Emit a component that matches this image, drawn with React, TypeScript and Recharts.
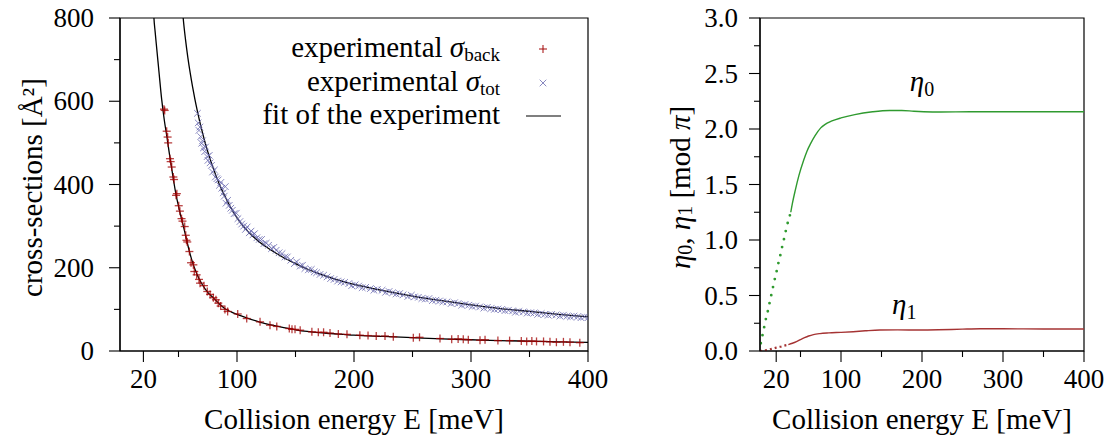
import React from 'react';
import { ComposedChart, Scatter, Line, XAxis, YAxis, ReferenceArea, ReferenceDot, Legend } from 'recharts';

const FONT = "'Liberation Serif', 'DejaVu Serif', serif";
const FS = 27; // tick labels
const TS = 29; // titles, legend

// axis ticks (majors get a label, the rest are minor ticks)
const energyTicks = [20, 50, 100, 150, 200, 250, 300, 350, 400];
const energyLabels = [20, 100, 200, 300, 400];
const sigmaTicks = [0, 100, 200, 300, 400, 500, 600, 700, 800];
const sigmaLabels = [0, 200, 400, 600, 800];
const etaTicks = [0, 0.25, 0.5, 0.75, 1, 1.25, 1.5, 1.75, 2, 2.25, 2.5, 2.75, 3];
const etaLabels = [0, 0.5, 1, 1.5, 2, 2.5, 3];

// measured backward cross-section [E meV, sigma A^2]
const backMeasured = [
  [37.6, 581], [38.2, 578], [39.9, 528], [40.7, 514], [41.2, 500], [42.7, 462], [43.3, 455], [44.2, 442],
  [45.6, 418], [46.2, 412], [47.9, 374], [48.6, 378], [50.2, 349], [51.2, 336], [52.6, 318], [53.4, 312],
  [55.3, 299], [56.2, 278], [56.8, 266], [57.5, 262], [59.3, 239], [60.7, 212], [62.7, 207], [63.5, 191],
  [65.5, 183], [67.5, 172], [68.4, 163], [71.8, 157], [74.6, 143], [77, 136], [79.8, 128], [82, 123],
  [84, 115], [86, 108], [89.7, 100], [92, 95], [100.6, 89], [108.3, 78], [119.7, 70], [128.2, 62],
  [134, 59], [144.7, 54], [147, 52], [149.6, 52], [154, 50], [164, 46], [169.5, 45], [174, 45],
  [179.5, 43], [186.6, 41], [194, 40], [205, 38], [212, 37], [219, 36], [226.5, 36], [233.6, 34],
  [250.7, 32], [256, 33], [273.5, 30], [283.5, 28], [289, 29], [293.4, 28], [297.7, 27], [307.7, 26],
  [312, 27], [323, 25], [333, 25], [343, 24], [347.6, 23], [352, 24], [356, 23], [362, 23],
  [367.5, 22], [373, 21], [379, 22], [384.6, 21], [393, 20],
];

// measured total cross-section
const totMeasured = [
  [66.2, 571], [66.8, 548], [67.5, 530], [68.3, 538], [69, 515], [69.8, 499], [70.5, 505], [71.3, 488],
  [72.4, 479], [73.1, 490], [74.5, 467], [75.2, 458], [76.3, 470], [77, 452], [78.2, 446], [79.1, 430],
  [80.7, 435], [81.5, 418], [82.8, 414], [83.9, 411], [85, 398], [86.2, 405], [87, 391], [88.3, 380],
  [89.1, 372], [90, 395], [90.6, 355], [92, 362], [93.4, 350], [94.7, 343], [96, 338], [97.5, 330],
  [99.4, 331], [100.8, 318], [102.5, 311], [104, 305], [105.7, 300], [107.2, 292], [108.7, 298], [110.5, 284],
  [112, 288], [113.6, 279], [115, 282], [117, 272], [119, 268], [121, 268], [123, 258], [125, 259],
  [127, 254], [129.5, 246], [131.5, 249], [133.5, 242], [136, 236], [138.5, 234], [141, 226], [143, 226],
  [146, 218], [149, 210], [151, 214], [154, 204], [156, 206], [158, 198], [161, 195], [163.5, 196],
  [166, 190], [168, 188], [171, 184], [174, 182], [177, 178], [180, 174], [183, 172], [186, 168],
  [189, 166], [192, 165], [195.6, 162], [198, 157], [201, 159], [204, 156], [207, 152], [210, 153],
  [214, 150], [217, 146], [220, 148], [224, 146], [227, 141], [230, 143], [233, 140], [236, 137],
  [239, 138], [242, 135], [246, 131], [249, 134], [251.6, 130], [255, 129], [258, 126], [261, 125],
  [264, 126], [267, 121], [270, 122], [273, 120], [276, 118], [279.5, 118], [283, 114], [286, 116],
  [289, 114], [292, 110], [295, 112], [298, 110], [301, 107], [304, 108], [307.5, 106], [311, 103],
  [314, 105], [317, 102], [320, 100], [323, 101], [326, 99.5], [329, 97], [332, 98], [335.4, 96],
  [338, 93], [341, 95], [344.7, 94], [348, 91], [351, 92], [354, 91.5], [357, 88], [360, 90],
  [363, 88], [366, 86], [369, 88], [372.7, 86.7], [376, 84], [379, 86], [382, 83.5], [385, 82],
  [388, 84], [391, 82], [394, 80], [397, 82], [400, 80],
];

// fits of the experiment
const backFit = [
  [28, 870], [29, 800], [30, 768], [31, 738], [33, 680], [35.6, 605], [38, 552], [40, 516], [42, 478],
  [44, 442], [46, 406], [48, 374], [50, 348], [52, 324], [54, 302], [56, 278], [58, 254], [60, 232],
  [62, 213], [64, 197], [66, 183], [68, 171], [70, 161], [75, 141], [80, 127], [85, 113], [90, 101],
  [95, 94], [100, 88], [110, 78], [120, 69], [130, 62], [140, 56], [150, 51], [160, 47], [170, 44],
  [180, 42], [200, 38], [225, 35], [250, 32], [275, 29], [300, 27], [325, 25], [350, 23.5], [375, 22], [400, 20.5],
];
const totFit = [
  [53, 835], [54, 800], [56, 748], [58, 705], [60, 668], [62, 635], [64, 605], [66, 578], [68, 553],
  [70, 530], [73, 498], [76, 470], [80, 437], [85, 400], [90, 370], [95, 343], [100, 320], [110, 285],
  [120, 260], [130, 241], [140, 224], [150, 210], [160, 197], [170, 186], [180, 176], [190, 167],
  [200, 160], [225, 145], [250, 132], [275, 121], [300, 111], [325, 102], [350, 95], [375, 88], [400, 82],
];

// phase shifts [E meV, eta mod pi]
const eta0Low = [
  [1, 0.07], [3, 0.14], [5, 0.21], [7, 0.28], [10, 0.37], [12, 0.44], [15, 0.54], [18, 0.64],
  [20, 0.7], [22, 0.77], [25, 0.86], [28, 0.96], [30, 1.02], [33, 1.12], [36, 1.2], [38, 1.25],
];
const eta0High = [
  [38, 1.25], [40, 1.33], [43.6, 1.45], [48, 1.58], [54, 1.72], [58, 1.8], [62.6, 1.87], [68, 1.94],
  [75, 2.01], [80, 2.04], [88, 2.07], [100, 2.1], [117, 2.13], [139, 2.155], [160, 2.167], [175, 2.167],
  [190, 2.16], [202, 2.156], [223, 2.153], [260, 2.155], [300, 2.155], [350, 2.155], [400, 2.155],
];
const eta1Low = [
  [0, 0], [5, 0.004], [10, 0.012], [15, 0.02], [20, 0.03], [25, 0.038], [30, 0.048], [35, 0.058],
];
const eta1High = [
  [35, 0.058], [40, 0.07], [45, 0.085], [50, 0.103], [55, 0.12], [60, 0.135], [66, 0.148], [74, 0.157],
  [85, 0.163], [100, 0.168], [115, 0.174], [130, 0.182], [148, 0.189], [170, 0.19], [197, 0.189],
  [220, 0.191], [250, 0.197], [272, 0.2], [300, 0.2], [350, 0.198], [400, 0.198],
];

const toS = (a: number[][]) => a.map(([E, s]) => ({ E, s }));
const toV = (a: number[][]) => a.map(([E, v]) => ({ E, v }));

const RED = '#a00000';
const BLUE = '#6a6ab0';
const GREEN = '#2f9a2f';
const BROWN = '#a53333';

const TICK = 11;

function xTick(margin: number) {
  return (props: any) => {
    const { x, y, payload } = props;
    const major = energyLabels.includes(payload.value);
    const axisY = y - TICK - margin;
    return (
      <g>
        <line x1={x} x2={x} y1={axisY} y2={axisY + (major ? TICK : 6)} stroke="#000" strokeWidth={1.1} />
        {major && (
          <text x={x} y={y} dy="0.71em" textAnchor="middle" style={{ fontFamily: FONT }} fontSize={FS} fill="#000">
            {payload.value}
          </text>
        )}
      </g>
    );
  };
}

function yTick(margin: number, labels: number[], fmt: (v: number) => string) {
  return (props: any) => {
    const { x, y, payload } = props;
    const major = labels.includes(payload.value);
    const axisX = x + TICK + margin;
    return (
      <g>
        <line x1={axisX - (major ? TICK : 6)} x2={axisX} y1={y} y2={y} stroke="#000" strokeWidth={1.1} />
        {major && (
          <text x={x} y={y} dy="0.34em" textAnchor="end" style={{ fontFamily: FONT }} fontSize={FS} fill="#000">
            {fmt(payload.value)}
          </text>
        )}
      </g>
    );
  };
}

const xTitle = (props: any) => {
  const vb = props.viewBox || { x: 0, y: 351, width: 400, height: 89 };
  return (
    <text x={vb.x + vb.width / 2} y={vb.y + 78} textAnchor="middle" style={{ fontFamily: FONT }} fontSize={TS} fill="#000">
      Collision energy E [meV]
    </text>
  );
};

const Plus = (p: any) => (
  <g stroke={RED} strokeOpacity={0.75} strokeWidth={1.3}>
    <line x1={p.cx - 4} x2={p.cx + 4} y1={p.cy} y2={p.cy} />
    <line x1={p.cx} x2={p.cx} y1={p.cy - 4} y2={p.cy + 4} />
  </g>
);

const Cross = (p: any) => (
  <g stroke={BLUE} strokeOpacity={0.8} strokeWidth={1}>
    <line x1={p.cx - 3.3} x2={p.cx + 3.3} y1={p.cy - 3.3} y2={p.cy + 3.3} />
    <line x1={p.cx - 3.3} x2={p.cx + 3.3} y1={p.cy + 3.3} y2={p.cy - 3.3} />
  </g>
);

const Sub = ({ children }: { children: React.ReactNode }) => (
  <span style={{ fontSize: 19, fontStyle: 'normal', position: 'relative', top: 4, lineHeight: '20px' }}>{children}</span>
);

function LegendBox() {
  const rows = [
    { key: 'back', text: <>experimental <i>σ</i><Sub>back</Sub></>, mark: 'plus' },
    { key: 'tot', text: <>experimental <i>σ</i><Sub>tot</Sub></>, mark: 'cross' },
    { key: 'fit', text: <>fit of the experiment</>, mark: 'line' },
  ];
  return (
    <div style={{ fontFamily: FONT, fontSize: TS, lineHeight: '33.5px', color: '#000' }}>
      {rows.map((r) => (
        <div key={r.key} style={{ display: 'flex', height: 33.5 }}>
          <span style={{ width: 260, textAlign: 'right', whiteSpace: 'nowrap' }}>{r.text}</span>
          <svg width={70} height={33.5} style={{ display: 'block' }}>
            {r.mark === 'plus' && <Plus cx={43} cy={18} />}
            {r.mark === 'cross' && <Cross cx={43} cy={18} />}
            {r.mark === 'line' && <line x1={26} x2={61} y1={18} y2={18} stroke="#000" strokeWidth={1.2} />}
          </svg>
        </div>
      ))}
    </div>
  );
}

function CrossSections() {
  return (
    <ComposedChart width={610} height={440} margin={{ top: 18, right: 22, bottom: 0, left: 0 }}>
      <XAxis
        dataKey="E"
        type="number"
        domain={[0, 400]}
        allowDataOverflow
        ticks={energyTicks}
        interval={0}
        height={89}
        tickSize={TICK}
        tickMargin={7}
        tickLine={false}
        tick={xTick(7)}
        axisLine={{ stroke: '#000', strokeWidth: 1.2 }}
        label={xTitle}
      />
      <YAxis
        dataKey="s"
        type="number"
        domain={[0, 800]}
        allowDataOverflow
        ticks={sigmaTicks}
        interval={0}
        width={120}
        tickSize={TICK}
        tickMargin={15}
        tickLine={false}
        tick={yTick(15, sigmaLabels, (v) => String(v))}
        axisLine={{ stroke: '#000', strokeWidth: 1.2 }}
        label={(props: any) => {
          const vb = props.viewBox || { x: 0, y: 18, width: 120, height: 333 };
          const cx = vb.x + 32;
          const cy = vb.y + vb.height / 2 + 3;
          return (
            <text x={cx} y={cy} transform={`rotate(-90 ${cx} ${cy})`} textAnchor="middle" dominantBaseline="central"
              style={{ fontFamily: FONT }} fontSize={TS} fill="#000">
              cross-sections [Å²]
            </text>
          );
        }}
      />
      <ReferenceArea x1={0} x2={400} y1={0} y2={800} stroke="#000" strokeWidth={1.2} fill="none" fillOpacity={0} />
      <Scatter name="back" data={toS(backMeasured)} shape={Plus} isAnimationActive={false} />
      <Scatter name="tot" data={toS(totMeasured)} shape={Cross} isAnimationActive={false} />
      <Line data={toS(backFit)} dataKey="s" type="monotone" stroke="#000" strokeWidth={1.3} dot={false} isAnimationActive={false} />
      <Line data={toS(totFit)} dataKey="s" type="monotone" stroke="#000" strokeWidth={1.3} dot={false} isAnimationActive={false} />
      <Legend
        layout="vertical"
        align="center"
        verticalAlign="middle"
        wrapperStyle={{ left: 240, top: 31, width: 330 }}
        content={() => <LegendBox />}
      />
    </ComposedChart>
  );
}

const EtaLabel = ({ cx, cy, sub }: { cx: number; cy: number; sub: string }) => (
  <text x={cx} y={cy} textAnchor="middle" style={{ fontFamily: FONT }} fontSize={TS} fill="#000">
    <tspan fontStyle="italic">η</tspan>
    <tspan fontSize={20} dy={5}>{sub}</tspan>
  </text>
);

function PhaseShifts() {
  return (
    <ComposedChart width={539} height={440} margin={{ top: 18, right: 35, bottom: 0, left: 0 }}>
      <XAxis
        dataKey="E"
        type="number"
        domain={[0, 400]}
        allowDataOverflow
        ticks={energyTicks}
        interval={0}
        height={89}
        tickSize={TICK}
        tickMargin={7}
        tickLine={false}
        tick={xTick(7)}
        axisLine={{ stroke: '#000', strokeWidth: 1.2 }}
        label={xTitle}
      />
      <YAxis
        dataKey="v"
        type="number"
        domain={[0, 3]}
        allowDataOverflow
        ticks={etaTicks}
        interval={0}
        width={180}
        tickSize={TICK}
        tickMargin={11}
        tickLine={false}
        tick={yTick(11, etaLabels, (v) => v.toFixed(1))}
        axisLine={{ stroke: '#000', strokeWidth: 1.2 }}
        label={(props: any) => {
          const vb = props.viewBox || { x: 0, y: 18, width: 180, height: 333 };
          const cx = vb.x + 100;
          const cy = vb.y + vb.height / 2 + 3;
          return (
            <text x={cx} y={cy} transform={`rotate(-90 ${cx} ${cy})`} textAnchor="middle" dominantBaseline="central"
              style={{ fontFamily: FONT }} fontSize={TS} fill="#000">
              <tspan fontStyle="italic">η</tspan>
              <tspan fontSize={20} dy={5}>0</tspan>
              <tspan dy={-5}>, </tspan>
              <tspan fontStyle="italic">η</tspan>
              <tspan fontSize={20} dy={5}>1</tspan>
              <tspan dy={-5}> [mod </tspan>
              <tspan fontStyle="italic">π</tspan>
              <tspan>]</tspan>
            </text>
          );
        }}
      />
      <ReferenceArea x1={0} x2={400} y1={0} y2={3} stroke="#000" strokeWidth={1.2} fill="none" fillOpacity={0} />
      <Line data={toV(eta0Low)} dataKey="v" type="monotone" stroke={GREEN} strokeWidth={2.8} strokeDasharray="0 8.2"
        strokeLinecap="round" dot={false} isAnimationActive={false} />
      <Line data={toV(eta0High)} dataKey="v" type="monotone" stroke={GREEN} strokeWidth={1.4} dot={false} isAnimationActive={false} />
      <Line data={toV(eta1Low)} dataKey="v" type="monotone" stroke={BROWN} strokeWidth={2.2} strokeDasharray="2 3"
        dot={false} isAnimationActive={false} />
      <Line data={toV(eta1High)} dataKey="v" type="monotone" stroke={BROWN} strokeWidth={1.4} dot={false} isAnimationActive={false} />
      <ReferenceDot x={200} y={2.34} r={0} shape={(p: any) => <EtaLabel cx={p.cx} cy={p.cy} sub="0" />} />
      <ReferenceDot x={178} y={0.33} r={0} shape={(p: any) => <EtaLabel cx={p.cx} cy={p.cy} sub="1" />} />
    </ComposedChart>
  );
}

export default function App() {
  return (
    <div style={{ position: 'absolute', left: 0, top: 0, width: 1119, height: 440, background: '#fff' }}>
      <div style={{ position: 'absolute', left: 0, top: 0 }}>
        <CrossSections />
      </div>
      <div style={{ position: 'absolute', left: 580, top: 0 }}>
        <PhaseShifts />
      </div>
    </div>
  );
}
